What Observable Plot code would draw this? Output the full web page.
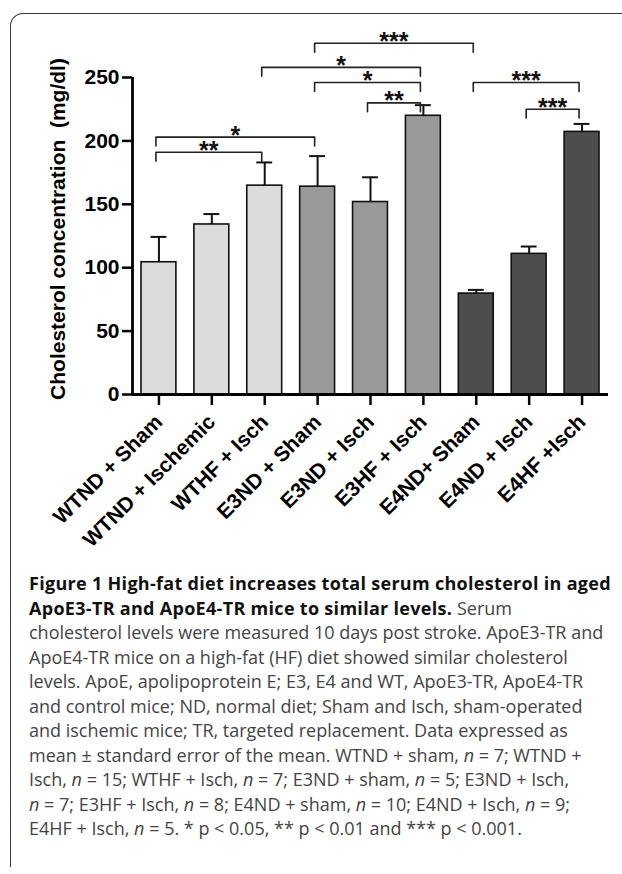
<!DOCTYPE html>
<html><head><meta charset="utf-8">
<script src="https://cdn.jsdelivr.net/npm/d3@7"></script>
<script src="https://cdn.jsdelivr.net/npm/@observablehq/plot@0.6"></script>
<style>
html,body{margin:0;padding:0;background:#fff;overflow:hidden;width:622px;height:874px;}
#frame{position:absolute;left:10px;top:13px;width:700px;height:853px;border-top:1.6px solid #3a3a3a;border-left:1.6px solid #3a3a3a;border-top-left-radius:13px;}
#chart{position:absolute;left:0;top:0;}
#caption{position:absolute;left:29px;top:571px;font-family:"Open Sans",sans-serif;font-size:18px;line-height:24.5px;color:#444;white-space:nowrap;}
#caption b{color:#111;font-weight:700;letter-spacing:0.3px}
</style></head><body>
<div id="frame"></div>
<div id="chart"></div>
<div id="caption"><b>Figure 1 High-fat diet increases total serum cholesterol in aged</b><br><b>ApoE3-TR and ApoE4-TR mice to similar levels.</b> Serum<br>cholesterol levels were measured 10 days post stroke. ApoE3-TR and<br>ApoE4-TR mice on a high-fat (HF) diet showed similar cholesterol<br>levels. ApoE, apolipoprotein E; E3, E4 and WT, ApoE3-TR, ApoE4-TR<br>and control mice; ND, normal diet; Sham and Isch, sham-operated<br>and ischemic mice; TR, targeted replacement. Data expressed as<br>mean ± standard error of the mean. WTND + sham, <i>n</i> = 7; WTND +<br>Isch, <i>n</i> = 15; WTHF + Isch, <i>n</i> = 7; E3ND + sham, <i>n</i> = 5; E3ND + Isch,<br><i>n</i> = 7; E3HF + Isch, <i>n</i> = 8; E4ND + sham, <i>n</i> = 10; E4ND + Isch, <i>n</i> = 9;<br>E4HF + Isch, <i>n</i> = 5. * p &lt; 0.05, ** p &lt; 0.01 and *** p &lt; 0.001.</div>
<script>
const categories = ["WTND + Sham", "WTND + Ischemic", "WTHF + Isch", "E3ND + Sham", "E3ND + Isch", "E3HF + Isch", "E4ND+ Sham", "E4ND + Isch", "E4HF +Isch"];
const means = [104.3, 134.1, 164.7, 163.9, 151.8, 219.8, 79.6, 110.9, 207.1];
const sems = [20.0, 8.2, 18.3, 24.1, 19.5, 8.4, 2.9, 5.8, 6.3];
const groups = ["WT", "WT", "WT", "E3", "E3", "E3", "E4", "E4", "E4"];
const groupColors = {WT: "#dcdcdc", E3: "#999999", E4: "#4d4d4d"};
const yTicks = [0, 50, 100, 150, 200, 250];
const yLabel = "Cholesterol concentration  (mg/dl)";
const bracketFrom = [3, 2, 3, 4, 6, 7, 0, 0];
const bracketTo = [6, 5, 5, 5, 8, 8, 3, 2];
const bracketLevel = [277, 258, 246, 230, 246, 225, 203, 191];
const bracketLabel = ["***", "*", "*", "**", "***", "***", "*", "**"];

const xDomain = [-0.5, categories.length - 0.5];
const yDomain = [0, 250];
const rows = categories.map((c, i) => ({i, name: c, mean: means[i], sem: sems[i], group: groups[i]}));
const legDrop = 7;
const bracketPts = bracketFrom.flatMap((f, k) => {
  const t = bracketTo[k], L = bracketLevel[k];
  return [{k, x: f, y: L - legDrop}, {k, x: f, y: L}, {k, x: t, y: L}, {k, x: t, y: L - legDrop}];
});
const bracketText = bracketFrom.map((f, k) => ({x: (f + bracketTo[k]) / 2, y: bracketLevel[k], label: bracketLabel[k]}));
const half = 0.33, capHalf = 0.15;

const chart = Plot.plot({
  width: 622, height: 560,
  marginLeft: 132, marginRight: 14, marginTop: 77, marginBottom: 166,
  x: {type: "linear", domain: xDomain},
  y: {domain: yDomain},
  style: {fontFamily: "'Liberation Sans', Arial, sans-serif", background: "transparent", color: "#000", overflow: "visible"},
  marks: [
    Plot.rect(rows, {x1: d => d.i - half, x2: d => d.i + half, y1: 0, y2: "mean", fill: d => groupColors[d.group], stroke: "#111", strokeWidth: 1.6}),
    Plot.ruleX(rows, {x: "i", y1: "mean", y2: d => d.mean + d.sem, stroke: "#111", strokeWidth: 2}),
    Plot.ruleY(rows, {x1: d => d.i - capHalf, x2: d => d.i + capHalf, y: d => d.mean + d.sem, stroke: "#111", strokeWidth: 2}),
    Plot.ruleY([0], {stroke: "#000", strokeWidth: 2.8}),
    Plot.ruleX([xDomain[0]], {y1: yDomain[0], y2: yDomain[1], stroke: "#000", strokeWidth: 2.8}),
    Plot.axisY({ticks: yTicks, tickSize: 10, tickPadding: 3, fontSize: 21, fontWeight: "bold", strokeWidth: 2.5, label: null}),
    Plot.text([yLabel], {frameAnchor: "left", textAnchor: "middle", rotate: -90, dx: -74, dy: -7, fontSize: 21, fontWeight: "bold", fill: "#000"}),
    Plot.axisX({ticks: d3.range(categories.length), tickFormat: i => categories[i], tickRotate: -45, tickSize: 11, tickPadding: 13,
      fontSize: 21, fontWeight: "bold", strokeWidth: 2.5, label: null}),
    Plot.line(bracketPts, {x: "x", y: "y", z: "k", stroke: "#222", strokeWidth: 1.6, dx: -3, clip: false}),
    Plot.text(bracketText, {x: "x", y: "y", text: "label", dx: -3, dy: -1.5, fontSize: 25, fontWeight: "bold", fill: "#111"})
  ]
});
document.getElementById("chart").appendChild(chart);
</script>
</body></html>
